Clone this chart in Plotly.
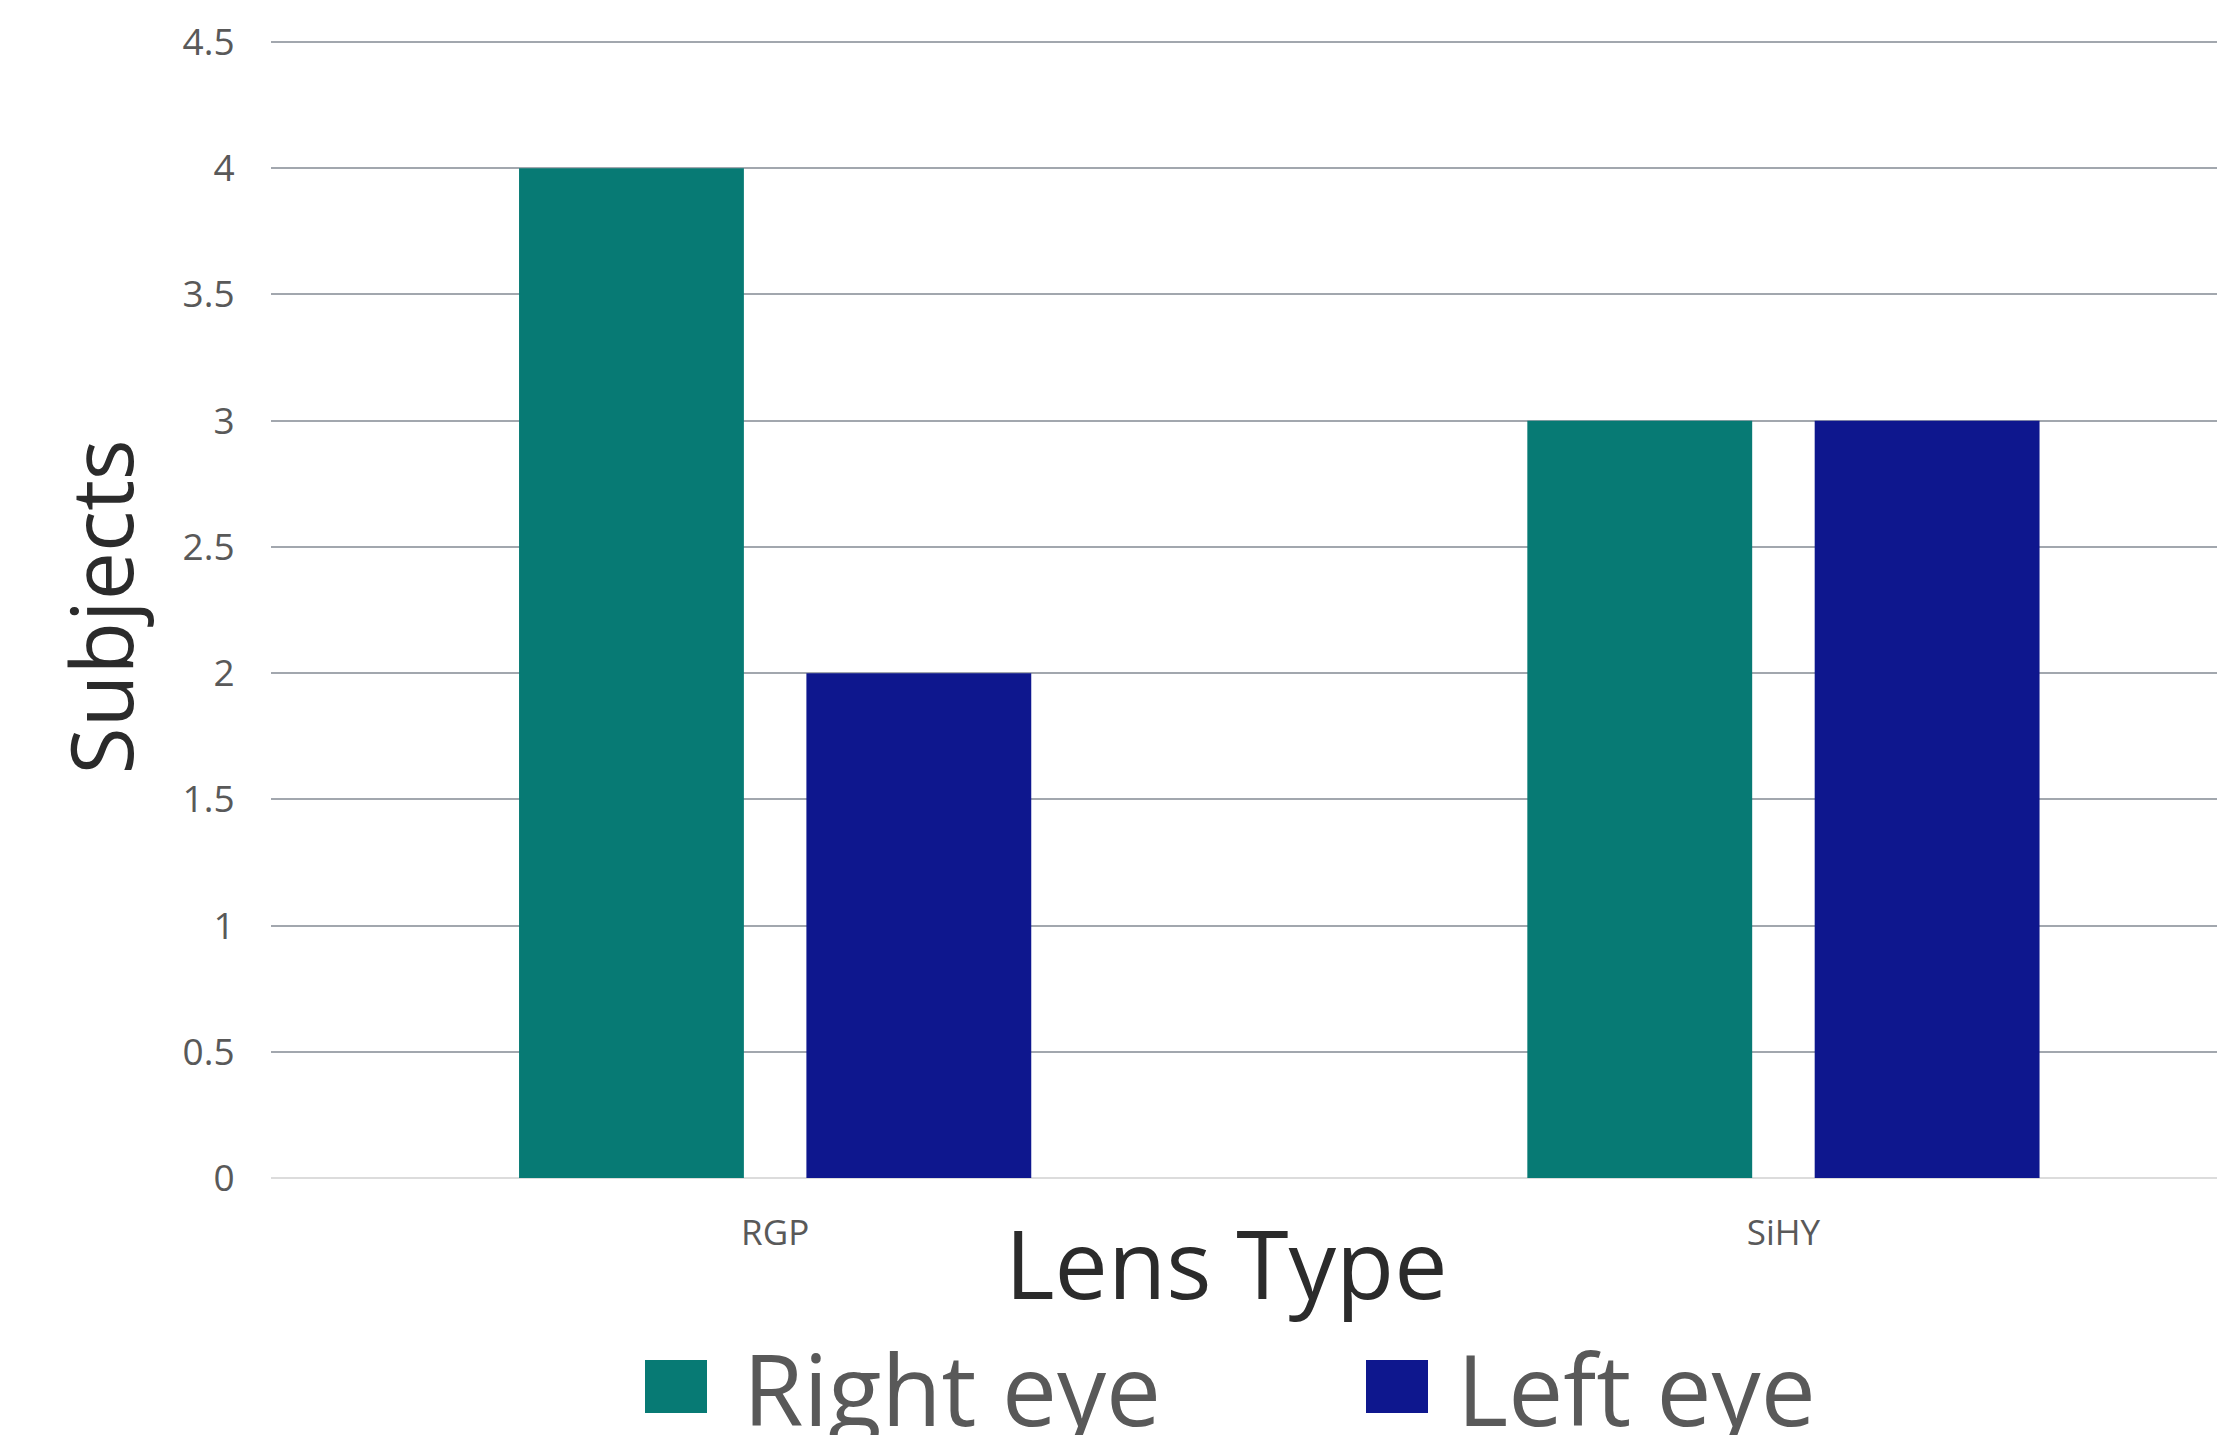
import plotly.graph_objects as go

# Lens wearers per eye, by lens type
lens_types = ["RGP", "SiHY"]
right_eye = [4, 3]
left_eye = [2, 3]
series_names = ["Right eye", "Left eye"]
series_colors = ["#077A74", "#0E178E"]
y_ticks = [0, 0.5, 1, 1.5, 2, 2.5, 3, 3.5, 4, 4.5]
y_tick_text = ["0", "0.5", "1", "1.5", "2", "2.5", "3", "3.5", "4", "4.5"]

W, H = 2217, 1435
ML, MR, MT, MB = 271, 0, 37, 257
PW, PH = W - ML - MR, H - MT - MB


def px_x(x):
    return (x - ML) / PW


def px_y(y):
    return (H - MB - y) / PH


FONT = "Open Sans, Segoe UI, Liberation Sans, sans-serif"

fig = go.Figure()
bar_width = 0.223
offsets = [-0.254, 0.031]
for name, vals, color, off in zip(series_names, [right_eye, left_eye], series_colors, offsets):
    fig.add_trace(go.Bar(
        x=lens_types, y=vals, name=name,
        marker=dict(color=color, line=dict(width=0)),
        width=bar_width, offset=off, showlegend=False,
    ))

fig.update_layout(
    width=W, height=H,
    margin=dict(l=ML, r=MR, t=MT, b=MB, pad=0),
    paper_bgcolor="white", plot_bgcolor="white",
    barmode="overlay",
    font=dict(family=FONT, color="#595959"),
    xaxis=dict(
        type="category", range=[-0.5, 1.43],
        showgrid=False, zeroline=False, showline=False,
        ticks="outside", ticklen=24, tickcolor="rgba(0,0,0,0)",
        tickfont=dict(size=35, color="#595959"),
    ),
    yaxis=dict(
        range=[0, 4.52], tickvals=y_ticks, ticktext=y_tick_text,
        showgrid=True, gridcolor="#A2A7AE", gridwidth=2,
        zeroline=True, zerolinecolor="#DCDCDC", zerolinewidth=2,
        showline=False,
        ticks="outside", ticklen=28, tickcolor="rgba(0,0,0,0)",
        tickfont=dict(size=37, color="#595959"),
    ),
    showlegend=False,
)

# axis titles
fig.add_annotation(
    text="Lens Type", xref="paper", yref="paper",
    x=px_x(1226), y=px_y(1262), xanchor="center", yanchor="middle",
    showarrow=False, font=dict(size=95, color="#2B2B2B", family=FONT),
)
fig.add_annotation(
    text="Subjects", xref="paper", yref="paper",
    x=px_x(99), y=0.5, xanchor="center", yanchor="middle", textangle=-90,
    showarrow=False, font=dict(size=86, color="#2B2B2B", family=FONT),
)

# legend: swatch + label for each series
legend_items = [(645, 741), (1366, 1455)]
for (sx, tx), name, color in zip(legend_items, series_names, series_colors):
    fig.add_shape(
        type="rect", xref="paper", yref="paper",
        x0=px_x(sx), x1=px_x(sx + 62), y0=px_y(1413), y1=px_y(1360),
        fillcolor=color, line=dict(width=0),
    )
    fig.add_annotation(
        text=name, xref="paper", yref="paper",
        x=px_x(tx), y=px_y(1388), xanchor="left", yanchor="middle",
        showarrow=False, font=dict(size=98, color="#595959", family=FONT),
    )

fig.write_html("out.html")
